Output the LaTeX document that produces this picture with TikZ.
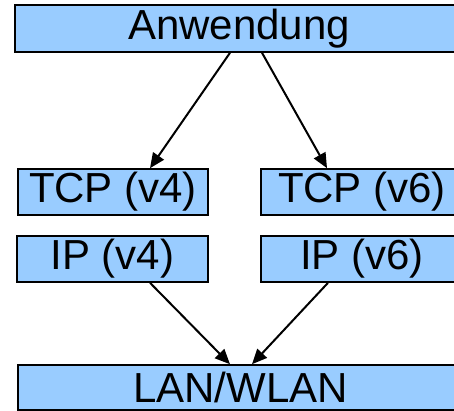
\documentclass[tikz,border=0pt]{standalone}
\usepackage{fontspec}
\setmainfont{Liberation Sans}
\usetikzlibrary{arrows.meta}
\definecolor{boxblue}{HTML}{99CCFF}
\begin{document}
\begin{tikzpicture}[x=1pt,y=-1pt,
  layerbox/.style={draw=black,line width=1.6pt,fill=boxblue,rectangle,inner sep=0pt,
    font=\fontsize{42}{42}\selectfont},
  arr/.style={line width=2pt,-{Triangle[length=15pt,width=13pt]}}]
\useasboundingbox (0,0) rectangle (454,411);
\clip (0,0) rectangle (454,411);
\fill[white] (0,0) rectangle (454,411);
\node[layerbox,minimum width=448pt,minimum height=47pt] (anw) at (239,28.5) {Anwendung};
\node[layerbox,minimum width=190pt,minimum height=46pt] (tcp4) at (113,192) {TCP (v4)};
\node[layerbox,minimum width=202pt,minimum height=46pt] (tcp6) at (362,192) {TCP (v6)};
\node[layerbox,minimum width=191pt,minimum height=46pt] (ip4) at (112.5,259) {IP (v4)};
\node[layerbox,minimum width=202pt,minimum height=46pt] (ip6) at (362,259) {IP (v6)};
\node[layerbox,minimum width=445pt,minimum height=45pt] (lan) at (240.5,387.5) {LAN/WLAN};
\draw[arr] ([xshift=-9pt]anw.south) -- ([xshift=37pt]tcp4.north);
\draw[arr] ([xshift=23pt]anw.south) -- ([xshift=-35pt]tcp6.north);
\draw[arr] ([xshift=37.5pt]ip4.south) -- ([xshift=-10.5pt]lan.north);
\draw[arr] ([xshift=-34pt]ip6.south) -- ([xshift=11.5pt]lan.north);
\end{tikzpicture}
\end{document}
